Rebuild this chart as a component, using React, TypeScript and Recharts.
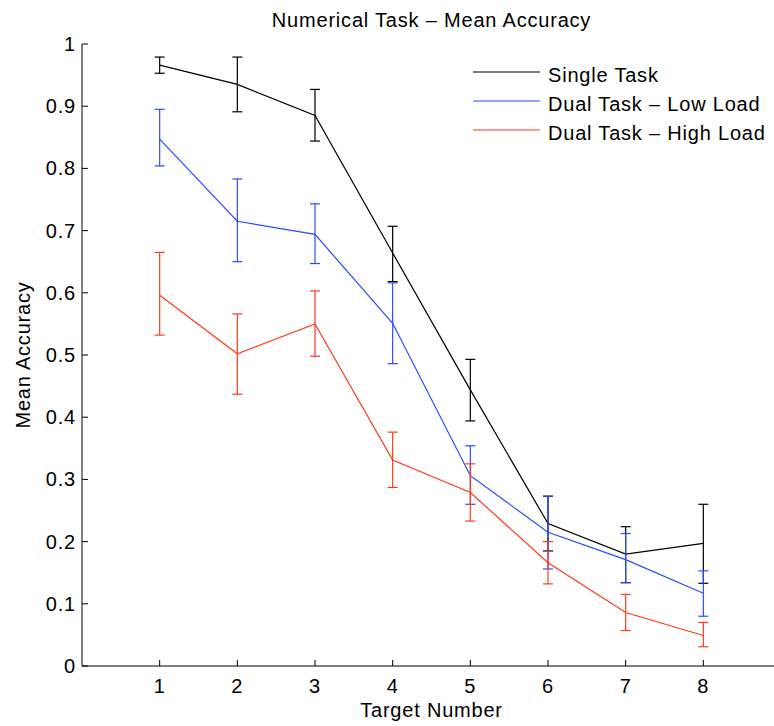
import React from 'react';
import { LineChart, Line, XAxis, YAxis, ErrorBar, Legend, Customized } from 'recharts';

// Mean accuracy per target number, with the top and bottom of each error bar.
const targets = [1, 2, 3, 4, 5, 6, 7, 8];

const singleMean = [0.966, 0.935, 0.885, 0.664, 0.444, 0.229, 0.18, 0.197];
const singleHigh = [0.979, 0.979, 0.927, 0.707, 0.493, 0.273, 0.224, 0.26];
const singleLow = [0.953, 0.891, 0.844, 0.618, 0.394, 0.185, 0.134, 0.133];

const lowLoadMean = [0.847, 0.715, 0.694, 0.551, 0.306, 0.215, 0.171, 0.117];
const lowLoadHigh = [0.895, 0.783, 0.743, 0.616, 0.354, 0.273, 0.213, 0.153];
const lowLoadLow = [0.804, 0.65, 0.647, 0.486, 0.26, 0.156, 0.134, 0.08];

const highLoadMean = [0.596, 0.502, 0.55, 0.331, 0.279, 0.166, 0.086, 0.049];
const highLoadHigh = [0.665, 0.566, 0.603, 0.376, 0.325, 0.2, 0.115, 0.07];
const highLoadLow = [0.532, 0.437, 0.498, 0.287, 0.233, 0.132, 0.057, 0.031];

const xTicks = [1, 2, 3, 4, 5, 6, 7, 8];
const yTicks = [0, 0.1, 0.2, 0.3, 0.4, 0.5, 0.6, 0.7, 0.8, 0.9, 1];

const seriesNames = ['Single Task', 'Dual Task \u2013 Low Load', 'Dual Task \u2013 High Load'];

const BLACK = '#000000';
const BLUE = '#2a4bff';
const RED = '#ff3a1a';
const seriesColors = [BLACK, BLUE, RED];

const FONT = '"Liberation Sans", Arial, Helvetica, sans-serif';
const FONT_SIZE = 20;
const SPACING = 0.8;

// chart frame: the plot runs a little past the right edge of the page
const CHART_W = 800;
const CHART_H = 726;
const AXIS_W = 82;
const MARGIN = { top: 44, right: 19, bottom: 0, left: 0 };
const PLOT_CENTER_X = AXIS_W + (CHART_W - AXIS_W - MARGIN.right) / 2;

// ErrorBar wants [below, above] offsets from the mean
const data = targets.map((t, i) => ({
  target: t,
  single: singleMean[i],
  singleErr: [singleMean[i] - singleLow[i], singleHigh[i] - singleMean[i]],
  lowLoad: lowLoadMean[i],
  lowLoadErr: [lowLoadMean[i] - lowLoadLow[i], lowLoadHigh[i] - lowLoadMean[i]],
  highLoad: highLoadMean[i],
  highLoadErr: [highLoadMean[i] - highLoadLow[i], highLoadHigh[i] - highLoadMean[i]],
}));

const textProps = {
  fontSize: FONT_SIZE,
  fontFamily: FONT,
  letterSpacing: SPACING,
  fill: '#000',
};

// ─── Ticks (drawn pointing into the plot) ─────────────────────────────────────

function YTick({ x, y, payload }: any) {
  const v = payload.value as number;
  const label = v === 0 || v === 1 ? String(v) : v.toFixed(1);
  return (
    <g>
      <line x1={x} x2={x + 6} y1={y} y2={y} stroke="#000" strokeWidth={1} />
      <text x={x - 6} y={y} dy={7} textAnchor="end" {...textProps}>
        {label}
      </text>
    </g>
  );
}

function XTick({ x, y, payload }: any) {
  return (
    <g>
      <line x1={x} x2={x} y1={y} y2={y - 6} stroke="#000" strokeWidth={1} />
      <text x={x} y={y} dy={27} textAnchor="middle" {...textProps}>
        {payload.value}
      </text>
    </g>
  );
}

function SeriesLegend() {
  return (
    <svg width={300} height={90}>
      {seriesNames.map((name, i) => (
        <g key={name}>
          <line x1={0} x2={67} y1={14 + i * 29} y2={14 + i * 29} stroke={seriesColors[i]} strokeWidth={1.2} />
          <text x={75} y={14 + i * 29} dy={10} {...textProps}>
            {name}
          </text>
        </g>
      ))}
    </svg>
  );
}

function XLabel({ viewBox }: any) {
  const { x, y, width } = viewBox;
  return (
    <text x={x + width / 2} y={y + 51} textAnchor="middle" {...textProps}>
      Target Number
    </text>
  );
}

function YLabel({ viewBox }: any) {
  const { y, height } = viewBox;
  const cx = 30;
  const cy = y + height / 2;
  return (
    <text x={cx} y={cy} transform={`rotate(-90, ${cx}, ${cy})`} textAnchor="middle" {...textProps}>
      Mean Accuracy
    </text>
  );
}

function Title() {
  return (
    <text x={PLOT_CENTER_X} y={27} textAnchor="middle" {...textProps}>
      Numerical Task {'\u2013'} Mean Accuracy
    </text>
  );
}

export default function App() {
  return (
    <div style={{ position: 'absolute', left: 0, top: 0, width: 774, height: 726, overflow: 'hidden', background: '#fff' }}>
      <LineChart width={CHART_W} height={CHART_H} data={data} margin={MARGIN}>
        <XAxis
          dataKey="target"
          type="number"
          domain={[0, 9]}
          ticks={xTicks}
          allowDataOverflow
          tickSize={0}
          tickMargin={0}
          tick={<XTick />}
          stroke="#000"
          height={60}
          label={<XLabel />}
        />
        <YAxis
          type="number"
          domain={[0, 1]}
          ticks={yTicks}
          tickSize={0}
          tickMargin={0}
          tick={<YTick />}
          stroke="#000"
          width={AXIS_W}
          label={<YLabel />}
        />
        <Legend
          layout="vertical"
          verticalAlign="middle"
          align="center"
          wrapperStyle={{ left: 473, top: 58, width: 300, height: 90 }}
          content={<SeriesLegend />}
        />
        <Customized component={Title} />
        <Line type="linear" dataKey="single" stroke={BLACK} strokeWidth={1.2} dot={false} isAnimationActive={false}>
          <ErrorBar dataKey="singleErr" direction="y" width={5} stroke={BLACK} strokeWidth={1.2} />
        </Line>
        <Line type="linear" dataKey="lowLoad" stroke={BLUE} strokeWidth={1.2} dot={false} isAnimationActive={false}>
          <ErrorBar dataKey="lowLoadErr" direction="y" width={5} stroke={BLUE} strokeWidth={1.2} />
        </Line>
        <Line type="linear" dataKey="highLoad" stroke={RED} strokeWidth={1.2} dot={false} isAnimationActive={false}>
          <ErrorBar dataKey="highLoadErr" direction="y" width={5} stroke={RED} strokeWidth={1.2} />
        </Line>
      </LineChart>
    </div>
  );
}
